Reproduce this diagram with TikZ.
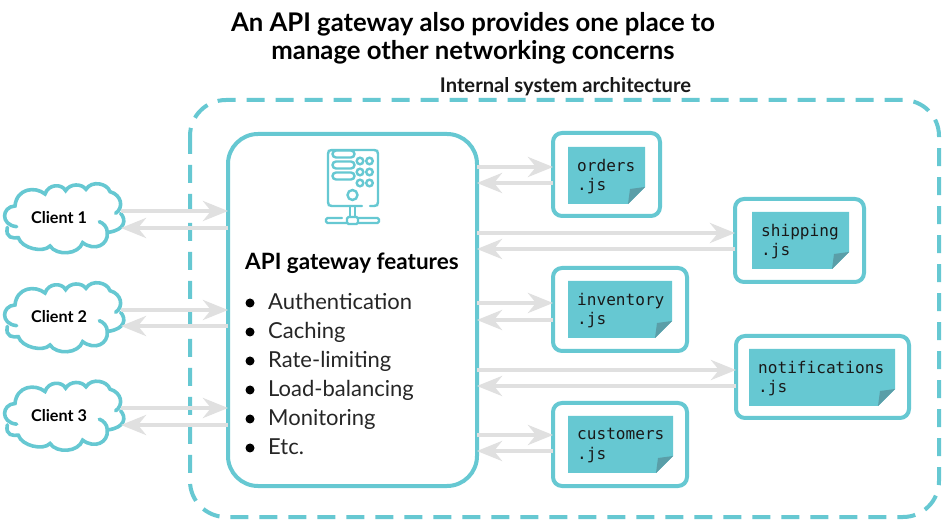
\documentclass[tikz,border=0pt]{standalone}
\usepackage{fontspec}
\setmainfont{Lato}
\setmonofont{DejaVu Sans Mono}
\usetikzlibrary{arrows.meta,fit}
\definecolor{teal1}{HTML}{66C8D2}
\definecolor{fold}{HTML}{5A9EA8}
\definecolor{arrowgray}{HTML}{E0E0E0}
\tikzset{
  x=1pt,y=-1pt,
  outline/.style={draw=teal1,line width=4pt,fill=white},
  svcbox/.style={outline,rounded corners=9pt,inner sep=0pt,outer sep=0pt},
  arr/.style={draw=arrowgray,line width=4pt,-{Stealth[length=25pt,width=20pt,inset=8pt]}},
  ico/.style={draw=teal1,line width=2.4pt,line cap=round},
  cloudline/.style={draw=teal1,line width=3.6pt,line cap=round},
  clientnode/.style={minimum width=124pt,minimum height=60pt,inner sep=0pt,outer sep=0pt,font=\fontsize{16.2}{18}\selectfont\bfseries},
  feat/.style={anchor=base west,inner sep=0pt,font=\fontsize{22}{24}\selectfont,text=black!85},
  dot/.style={circle,fill=black,inner sep=0pt,minimum size=9pt},
  mono/.style={anchor=west,align=left,inner sep=0pt,text=black!90,font=\fontsize{16.1}{19.5}\selectfont\ttfamily}
}
\newcommand{\cloudat}[1]{%
 \begin{scope}[yshift=-#1pt,x=0.3333pt,y=-0.3333pt]
  \draw[cloudline] (347,130) .. controls (372,112) and (365,75) .. (330,65)
     .. controls (322,40) and (275,30) .. (258,58)
     .. controls (245,40) and (210,40) .. (197,62)
     .. controls (185,40) and (145,42) .. (135,72)
     .. controls (105,48) and (50,55) .. (45,108)
     .. controls (5,110) and (0,165) .. (50,170);
  \draw[cloudline] (22,172) .. controls (15,205) and (40,205) .. (55,203)
     .. controls (65,235) and (130,250) .. (150,228)
     .. controls (170,258) and (235,255) .. (248,218)
     .. controls (285,245) and (325,225) .. (322,188)
     .. controls (322,170) and (310,160) .. (298,155);
  \draw[cloudline] (325,187) .. controls (375,180) and (380,150) .. (362,130);
 \end{scope}}
\newcommand{\notesheet}[5]{%
 \fill[teal1] (#1,#2) -- (#3,#2) -- (#3,#4-17) -- (#3-17,#4) -- (#1,#4) -- cycle;
 \fill[fold] (#3,#4-17) -- (#3-17,#4) -- (#3-15,#4-15) -- cycle;
 \node[mono] at (#1+9,#2+29.5) {#5};}
\begin{document}
\begin{tikzpicture}
\useasboundingbox (0,0) rectangle (946,521);
\fill[white] (0,0) rectangle (946,521);
% titles
\node[font=\fontsize{25.7}{28}\selectfont\bfseries,align=center,inner sep=0pt,text=black] (title) at (473,38) {An API gateway also provides one place to\\[0pt]manage other networking concerns};
\node[font=\fontsize{20.2}{22}\selectfont\bfseries,inner sep=0pt,text=black!90] (inttitle) at (565.5,87) {Internal system architecture};
% system boundary
\draw[teal1,line width=4pt,rounded corners=36pt,dash pattern=on 18pt off 11pt] (190,100) rectangle (939,517);
% gateway
\node[outline,rounded corners=30pt,inner sep=0pt,outer sep=0pt,fit={(228,134)(477,486)}] (gw) {};
% icon
\draw[ico] (370,206) -- (374,206) .. controls (377,206) and (378,205) .. (378,202) -- (378,154) .. controls (378,151) and (377,150) .. (374,150) -- (332,150) .. controls (329,150) and (328,151) .. (328,154) -- (328,202) .. controls (328,205) and (329,206) .. (332,206) -- (362,206);
\foreach \yy in {161,172,183}{
  \draw[ico] (336,\yy) ++(0,-3.5) arc[start angle=90,end angle=270,radius=3.5] -- ++(15,0) arc[start angle=-90,end angle=90,radius=3.5] -- cycle;
  \draw[ico] (360,\yy) circle (3.3);
  \draw[ico] (369.5,\yy) circle (3.3);
}
\draw[ico] (352.5,195) circle (5);
\draw[ico] (350,206) -- (350,217);
\draw[ico] (355,206) -- (355,217);
\draw[ico,rounded corners=1.5pt] (347,217) rectangle (358,224);
\draw[ico,rounded corners=1.5pt] (342,218) -- (326,218) -- (326,223) -- (347,223);
\draw[ico,rounded corners=1.5pt] (358,218) -- (379,218) -- (379,223) -- (358,223);
% features
\node[font=\fontsize{22.5}{24}\selectfont\bfseries,inner sep=0pt,anchor=west,text=black] (feathead) at (245,263) {API gateway features};
\foreach \yy/\tx/\nm in {302/Authentication/f1,331/Caching/f2,360/Rate-limiting/f3,389/Load-balancing/f4,418/Monitoring/f5,447/Etc./f6}{
  \node[dot] (\nm d) at (250,\yy+1) {};
  \node[feat] (\nm) at (268,\yy+8) {\tx};
}
% clients
\cloudat{170}\cloudat{269}\cloudat{367.5}
\node[clientnode] (c1) at (59,218) {Client 1};
\node[clientnode] (c2) at (59,317) {Client 2};
\node[clientnode] (c3) at (59,415.5) {Client 3};
% services
\node[svcbox,fit={(553,133)(660,216)}] (orders) {};
\node[svcbox,fit={(735,199)(864,282)}] (shipping) {};
\node[svcbox,fit={(553,268)(687,351)}] (inventory) {};
\node[svcbox,fit={(736,336)(909,418)}] (notifications) {};
\node[svcbox,fit={(553,403)(687,486)}] (customers) {};
\notesheet{568}{147}{645}{204}{orders\\.js}
\notesheet{752}{212}{849}{269}{shipping\\.js}
\notesheet{568}{281}{672}{338}{inventory\\.js}
\notesheet{749}{349}{895}{406}{notifications\\.js}
\notesheet{568}{416}{673}{473}{customers\\.js}
% connectors
\draw[arr] (c1.east |- 0,211) -- (gw.west |- 0,211);
\draw[arr] (gw.west |- 0,228) -- (c1.east |- 0,228);
\draw[arr] (c2.east |- 0,310) -- (gw.west |- 0,310);
\draw[arr] (gw.west |- 0,326) -- (c2.east |- 0,326);
\draw[arr] (c3.east |- 0,408) -- (gw.west |- 0,408);
\draw[arr] (gw.west |- 0,425) -- (c3.east |- 0,425);
\draw[arr] (gw.east |- 0,167) -- (orders.west |- 0,167);
\draw[arr] (orders.west |- 0,183) -- (gw.east |- 0,183);
\draw[arr] (gw.east |- 0,233) -- (shipping.west |- 0,233);
\draw[arr] (shipping.west |- 0,249) -- (gw.east |- 0,249);
\draw[arr] (gw.east |- 0,303) -- (inventory.west |- 0,303);
\draw[arr] (inventory.west |- 0,320) -- (gw.east |- 0,320);
\draw[arr] (gw.east |- 0,370) -- (notifications.west |- 0,370);
\draw[arr] (notifications.west |- 0,386) -- (gw.east |- 0,386);
\draw[arr] (gw.east |- 0,435) -- (customers.west |- 0,435);
\draw[arr] (customers.west |- 0,451) -- (gw.east |- 0,451);
\end{tikzpicture}
\end{document}
